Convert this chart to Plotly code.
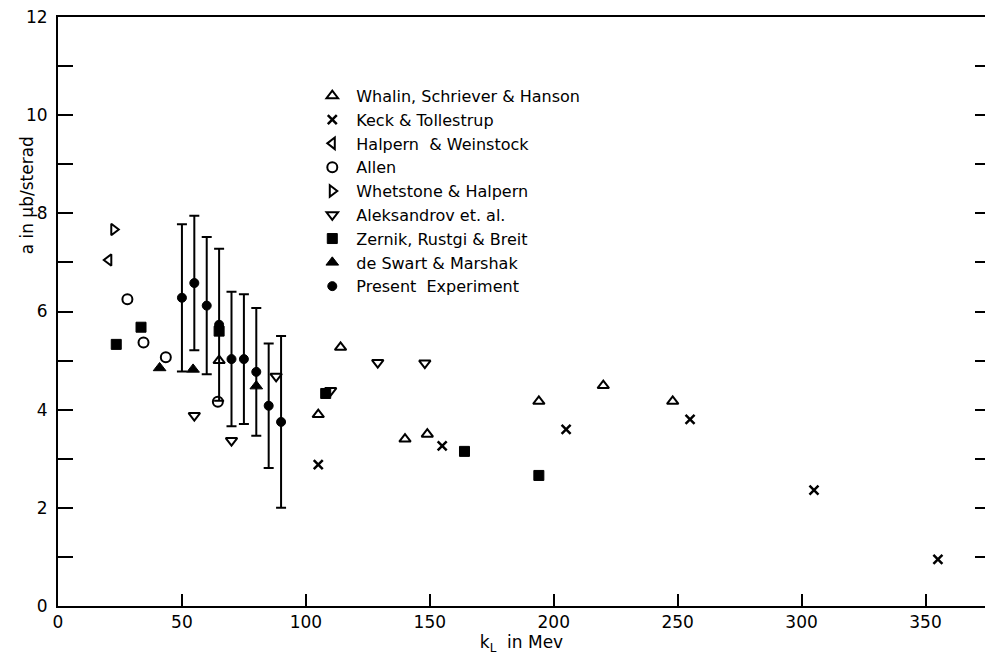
import plotly.graph_objects as go

# ---- data ----
whalin_k = [65, 105, 114, 140, 149, 194, 220, 248]
whalin_a = [5.0, 3.9, 5.27, 3.4, 3.5, 4.17, 4.49, 4.17]

keck_k = [105, 155, 205, 255, 305, 355]
keck_a = [2.88, 3.26, 3.6, 3.8, 2.36, 0.95]

halpern_k = [20.5]
halpern_a = [7.05]

allen_k = [28, 34.5, 43.5, 64.5]
allen_a = [6.25, 5.37, 5.07, 4.16]

whetstone_k = [22.5]
whetstone_a = [7.67]

aleks_k = [55, 70, 88, 110, 129, 148]
aleks_a = [3.88, 3.37, 4.68, 4.39, 4.96, 4.95]

zernik_k = [23.5, 33.5, 65, 108, 164, 194]
zernik_a = [5.33, 5.68, 5.6, 4.33, 3.15, 2.66]

deswart_k = [41, 54.5, 80]
deswart_a = [4.85, 4.82, 4.48]

present_k = [50, 55, 60, 65, 70, 75, 80, 85, 90]
present_a = [6.28, 6.58, 6.12, 5.73, 5.03, 5.03, 4.77, 4.08, 3.75]
present_err = [1.5, 1.37, 1.4, 1.55, 1.37, 1.32, 1.3, 1.27, 1.75]

x_ticks = [0, 50, 100, 150, 200, 250, 300, 350]
y_ticks = [0, 2, 4, 6, 8, 10, 12]

FONT = "DejaVu Sans"
BLK = "black"

fig = go.Figure()

def add(name, xs, ys, symbol, size=10, lw=2, err=None):
    kw = {}
    if err is not None:
        kw["error_y"] = dict(type="data", array=err, visible=True,
                             color=BLK, thickness=2, width=5)
    fig.add_trace(go.Scatter(
        x=xs, y=ys, mode="markers", name=name,
        marker=dict(symbol=symbol, size=size, color=BLK,
                    line=dict(color=BLK, width=lw)),
        **kw))

add("Whalin, Schriever & Hanson", whalin_k, whalin_a, "triangle-up-open", 10)
add("Keck & Tollestrup", keck_k, keck_a, "x-thin-open", 9, 2.5)
add("Halpern  & Weinstock", halpern_k, halpern_a, "triangle-left-open", 10)
add("Allen", allen_k, allen_a, "circle-open", 10)
add("Whetstone & Halpern", whetstone_k, whetstone_a, "triangle-right-open", 10)
add("Aleksandrov et. al.", aleks_k, aleks_a, "triangle-down-open", 10)
add("Zernik, Rustgi & Breit", zernik_k, zernik_a, "square", 10, 1)
add("de Swart & Marshak", deswart_k, deswart_a, "triangle-up", 11, 1)
add("Present  Experiment", present_k, present_a, "circle", 9, 1, present_err)

# dummy trace for the right-hand tick marks
fig.add_trace(go.Scatter(x=[None], y=[None], yaxis="y2", showlegend=False))

fig.update_layout(
    width=990, height=659,
    margin=dict(l=58, r=5, t=17, b=53),
    paper_bgcolor="white", plot_bgcolor="white",
    font=dict(family=FONT, size=16, color=BLK),
    showlegend=True,
    legend=dict(x=0.27, y=0.895, xanchor="left", yanchor="top",
                bgcolor="rgba(0,0,0,0)", borderwidth=0,
                font=dict(family=FONT, size=16, color=BLK),
                itemwidth=38, tracegroupgap=0),
    xaxis=dict(range=[0, 374], tickvals=x_ticks, ticktext=[str(v) for v in x_ticks],
               ticks="inside", ticklen=12, tickwidth=2, tickcolor=BLK,
               showline=True, linecolor=BLK, linewidth=2, mirror=True,
               showgrid=False, zeroline=False,
               tickfont=dict(family=FONT, size=17),
               title=dict(text="k<sub>L</sub>  in Mev", font=dict(family=FONT, size=17),
                          standoff=4)),
    yaxis=dict(range=[0, 12], tickvals=y_ticks, ticktext=[str(v) for v in y_ticks],
               ticks="inside", ticklen=15, tickwidth=2, tickcolor=BLK,
               minor=dict(dtick=1, ticks="inside", ticklen=15, tickwidth=2, tickcolor=BLK),
               showline=True, linecolor=BLK, linewidth=2,
               showgrid=False, zeroline=False, ticklabelstandoff=5,
               tickfont=dict(family=FONT, size=17)),
    yaxis2=dict(range=[0, 12], overlaying="y", side="right", dtick=1,
                ticks="inside", ticklen=10, tickwidth=2, tickcolor=BLK,
                showticklabels=False, showline=False, showgrid=False, zeroline=False),
)

fig.add_annotation(text="a in \u03bcb/sterad", textangle=-90,
                   xref="paper", yref="paper", x=-0.034, y=0.698,
                   xanchor="center", yanchor="middle",
                   showarrow=False, font=dict(family=FONT, size=17, color=BLK))

fig.write_html("out.html")
